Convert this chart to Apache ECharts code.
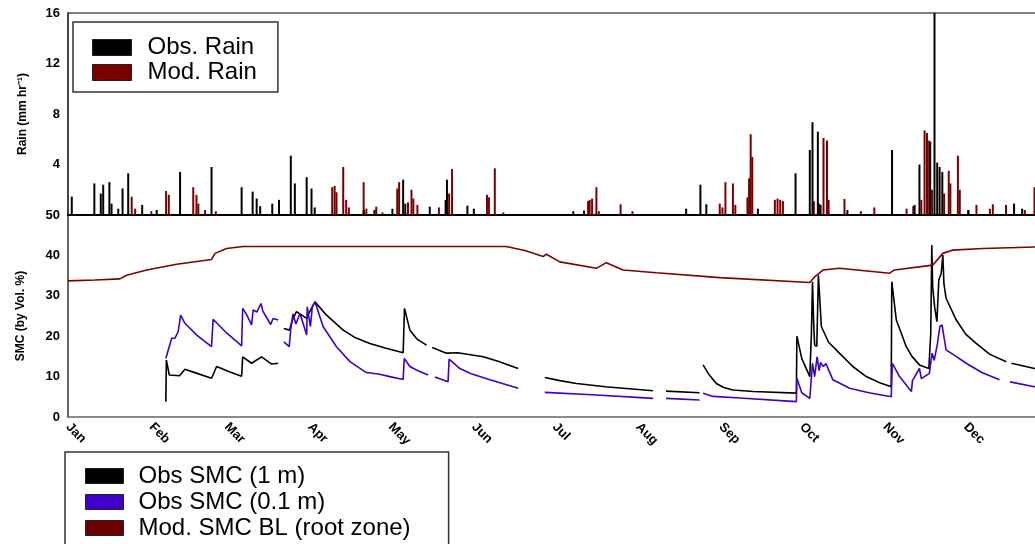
<!DOCTYPE html>
<html><head><meta charset="utf-8">
<script src="https://cdn.jsdelivr.net/npm/echarts@6/dist/echarts.min.js"></script>
<style>html,body{margin:0;padding:0;background:#fff}#c{width:1035px;height:544px}</style>
</head><body><div id="c"></div>
<script>
var monthNames = ['Jan','Feb','Mar','Apr','May','Jun','Jul','Aug','Sep','Oct','Nov','Dec'];
var monthStartDays = [0,31,59,90,120,151,181,212,243,273,304,334];
var rainTicks = [0,4,8,12,16];
var smcTicks = [0,10,20,30,40,50];

var obsRain = [[1.4,1.45],[9.8,2.5],[12.2,1.7],[13.1,2.4],[15.4,2.6],[16.2,0.9],[18.7,0.5],[20.3,2.1],[22.4,3.3],[27.6,0.8],[33,0.4],[41.7,3.4],[53.4,3.8],[64.6,2.2],[68.7,1.85],[70.2,1.3],[71.5,0.7],[76,0.9],[78.5,1.2],[82.9,4.7],[84.4,2.5],[88.8,3.0],[90.6,2.1],[91.8,0.6],[110,0.4],[114,0.4],[120.7,0.5],[124.7,2.8],[125.5,0.9],[134.6,0.66],[140.5,1.2],[141,2.8],[148.6,0.74],[151,0.5],[188,0.3],[192,0.35],[230,0.5],[235.3,2.4],[237.5,0.85],[256.7,0.5],[270.7,3.3],[276,5.15],[277,7.35],[279,6.6],[280,0.8],[290,0.4],[306.6,5.15],[315,0.8],[316.8,4.0],[320.8,5.8],[322.4,16],[323.4,4.15],[324.3,3.8],[325.3,3.4],[335,0.4],[352,0.9],[355,0.5],[363,0.85]];

var modRain = [[23.7,1.45],[25,0.5],[31,0.3],[36.5,1.9],[37.5,1.6],[46.6,2.2],[47.8,1.6],[48.5,0.9],[51,0.4],[55,0.3],[98.3,2.2],[99.2,2.3],[99.9,1.8],[102.4,3.8],[103.5,1.2],[104.5,0.6],[110,2.6],[111,0.5],[114.7,0.66],[117,0.2],[122.5,2.1],[123.2,2.6],[126.5,1.0],[127.8,2.0],[128.5,1.3],[130,0.8],[138,0.6],[141.8,1.7],[142.9,3.65],[155.9,1.6],[156.6,1.4],[158.8,3.7],[162,0.2],[193.5,1.1],[194.1,1.2],[195,1.3],[196.6,2.2],[197.5,0.3],[205.6,0.85],[210,0.3],[242.5,0.9],[243.5,0.6],[244.6,2.6],[247.4,2.5],[248.3,0.8],[252.8,1.4],[253.4,2.9],[254,6.4],[254.6,4.6],[263,1.2],[264,1.3],[265,1.2],[266,1.1],[277.5,1.1],[279.5,0.9],[281.1,6.1],[282.4,5.9],[283,1.2],[288.9,1.27],[295,0.3],[300,0.6],[312,0.5],[314.5,0.7],[317.5,1.2],[318.7,6.7],[319.6,6.5],[320.4,5.9],[321.5,2.0],[326,1.7],[327.7,3.5],[328.3,2.5],[331.1,4.7],[331.8,2.0],[335,0.4],[338,0.8],[343,0.5],[344.1,0.85],[349,0.8],[356,0.4],[359.6,2.2]];

var obsSmc1m = [[36.4,3.8],[36.6,14.1],[37.7,10.4],[41.5,10.2],[43.5,11.8],[48,10.8],[53.4,9.6],[55.3,12.5],[60,11.2],[64.6,10.1],[65,14.9],[68.3,13.3],[72,14.9],[75.8,13.1],[78.2,13.3],[79,null],[80.3,21.9],[82.4,21.5],[83.5,24],[85,26.1],[88.8,24.4],[89.5,25.5],[91.9,28.5],[96.2,25.2],[102.4,21.5],[107,19.6],[112.3,18.2],[118,17.1],[124.7,15.9],[125.2,26.9],[127.2,21.5],[130,19.2],[133.4,17.8],[134.5,null],[135.5,17.2],[140.8,15.8],[145,15.9],[154.5,14.9],[160,13.8],[167.5,12.0],[170,null],[177.4,9.8],[183,9.0],[189.2,8.3],[200,7.5],[217.7,6.5],[220,null],[222.5,6.4],[235,6.0],[235.6,null],[236.3,12.9],[238.5,10.5],[241.2,8.3],[244,7.3],[247.4,6.7],[255,6.3],[271,5.9],[271.2,20.0],[273,14.5],[276,10.0],[276.6,20.7],[277,33.5],[277.4,24],[277.8,17.8],[278.6,17.5],[279.2,35.1],[280.3,22.4],[283,18.5],[287,15.8],[292,12.5],[297,10.0],[302,8.5],[306.3,7.5],[306.5,33.5],[308.2,24.0],[311.9,17.4],[314,15],[316.8,12.9],[320.3,12.0],[321,20.7],[321.4,42.6],[321.7,32.3],[322.5,27],[323.3,23.6],[324,33.9],[324.9,35.6],[325.5,40.1],[325.9,33],[326.7,29.4],[330.5,24.0],[334,20.5],[337.9,18.2],[343,15.5],[349.1,13.7],[350,null],[351,13.3],[359.6,12.0],[365,11.6]];

var obsSmc01m = [[36.4,14.5],[37.3,16.6],[38.6,19.5],[39.8,19.5],[41,21.1],[41.9,25.2],[43.5,23.2],[48,20.2],[53.4,17.4],[54,24.2],[59,20.8],[64.6,17.6],[65,26.9],[66.5,25.3],[68.3,22.8],[68.9,26.5],[70.3,26],[71.8,28.1],[72.5,26.2],[75.4,22.9],[76.3,24.4],[78.2,24.0],[79,null],[80.3,18.6],[82.3,17.4],[82.9,21.9],[83.7,25.5],[84.8,23],[86.3,25.7],[88.8,20.3],[89,27.3],[90.2,22.4],[90.9,27.3],[91.9,28.5],[94.9,22.4],[99.9,17.4],[104.9,13.7],[111,11.0],[116,10.6],[119.7,10.0],[124.7,9.3],[125.1,14.5],[127.2,12.5],[130,11.5],[134,10.4],[135,null],[136.5,9.9],[141.4,8.7],[141.8,14.3],[145.8,12.0],[150,10.7],[157,9.2],[167.5,7.1],[170,null],[177.4,6.1],[195,5.5],[217.7,4.6],[220,null],[222.5,4.6],[235,4.2],[235.6,null],[236.3,5.9],[240,5.1],[250,4.7],[271,3.8],[271.2,9.6],[273,6],[276,4.6],[277,13.3],[277.8,10],[278.7,14.9],[279.5,11.5],[280,13.5],[281,12.5],[282,13.2],[284.6,9.2],[290.8,7.1],[298,6],[306.3,5.0],[306.7,13.3],[309.4,10],[313.8,6.3],[314.2,9],[316.8,12.0],[317.5,9.5],[320.5,10.8],[321.5,15.8],[322.3,14],[323.5,18.2],[324.4,22.4],[325.2,22.8],[326.7,16.6],[330,15.2],[334.2,13.3],[340,11.0],[346.6,9.2],[348,null],[350.5,8.7],[359.6,7.5],[365,7.2]];

var modSmc = [[0,33.7],[10,33.9],[19.3,34.2],[21.8,35.1],[29.3,36.4],[40.4,37.8],[53.4,39.0],[54.7,40.5],[59,41.7],[65.2,42.2],[163,42.2],[170,41.2],[176.8,39.7],[178,40.3],[183,38.4],[196.6,36.8],[200.3,38.2],[206.5,36.4],[218.9,35.7],[242.5,34.5],[276,33.3],[277.8,34.7],[281,36.4],[287,36.8],[305.7,35.6],[307.5,36.4],[321.8,37.6],[325.5,40.5],[329,41.3],[340.4,41.7],[365,42.2]];

var FONT = '"Liberation Sans", Arial, sans-serif';
var chart = echarts.init(document.getElementById('c'));
var axisLblStyle = {color:'#000', fontWeight:'bold', fontSize:13, fontFamily:FONT};
chart.setOption({
  animation:false,
  textStyle:{fontFamily:FONT},
  grid:[
    {left:68, width:981, top:13, height:202, show:true, borderColor:'#555', borderWidth:1.5, outerBoundsMode:'none', containLabel:false},
    {left:68, width:981, top:215, height:202, outerBoundsMode:'none', containLabel:false}
  ],
  xAxis:[
    {gridIndex:0, type:'value', min:0, max:365, splitLine:{show:false},
     axisLine:{lineStyle:{color:'#000', width:2}}, axisTick:{show:false}, axisLabel:{show:false}},
    {gridIndex:1, type:'value', min:0, max:365, splitLine:{show:false},
     axisLine:{lineStyle:{color:'#666', width:1.5}}, axisTick:{show:false},
     axisLabel:Object.assign({rotate:-45, margin:8, customValues:monthStartDays,
       formatter:function(v){var i=monthStartDays.indexOf(Math.round(v));return i>=0?monthNames[i]:'';}}, axisLblStyle)}
  ],
  yAxis:[
    {gridIndex:0, type:'value', min:rainTicks[0], max:rainTicks[rainTicks.length-1], interval:4,
     splitLine:{show:false}, axisTick:{show:false},
     axisLine:{show:true, lineStyle:{color:'#333', width:1.5}},
     axisLabel:Object.assign({showMinLabel:false, margin:8}, axisLblStyle),
     name:'Rain (mm hr\u207B\u00B9)', nameLocation:'middle', nameGap:39,
     nameTextStyle:{color:'#000', fontWeight:'bold', fontSize:12, fontFamily:FONT}},
    {gridIndex:1, type:'value', min:smcTicks[0], max:smcTicks[smcTicks.length-1], interval:10,
     splitLine:{show:false}, axisTick:{show:false},
     axisLine:{show:true, lineStyle:{color:'#333', width:1.5}},
     axisLabel:Object.assign({margin:8}, axisLblStyle),
     name:'SMC (by Vol. %)', nameLocation:'middle', nameGap:41,
     nameTextStyle:{color:'#000', fontWeight:'bold', fontSize:12, fontFamily:FONT}}
  ],
  legend:[
    {data:['Obs. Rain','Mod. Rain'], orient:'vertical', left:73, top:22, height:60,
     itemWidth:39, itemHeight:16, itemGap:0, icon:'rect',
     borderColor:'#333', borderWidth:1.5, padding:[13,21,7,19], backgroundColor:'#fff',
     textStyle:{fontSize:24, lineHeight:25, color:'#000', fontFamily:FONT, padding:[0,0,0,11]},
     itemStyle:{borderColor:'#222', borderWidth:1}},
    {data:['Obs SMC (1 m)','Obs SMC (0.1 m)','Mod. SMC BL (root zone)'], orient:'vertical', left:65, top:452, height:90,
     itemWidth:38, itemHeight:15, itemGap:0, icon:'rect',
     borderColor:'#333', borderWidth:1.5, padding:[11,38,30,20], backgroundColor:'#fff',
     textStyle:{fontSize:24, lineHeight:26, color:'#000', fontFamily:FONT, padding:[0,0,0,10]},
     itemStyle:{borderColor:'#222', borderWidth:1}}
  ],
  series:[
    {name:'Mod. Rain', type:'bar', xAxisIndex:0, yAxisIndex:0, data:modRain, barWidth:2, barGap:'-100%',
     itemStyle:{color:'#7a0000'}, z:2},
    {name:'Obs. Rain', type:'bar', xAxisIndex:0, yAxisIndex:0, data:obsRain, barWidth:2, barGap:'-100%',
     itemStyle:{color:'#000'}, z:3},
    {name:'Obs SMC (1 m)', type:'line', xAxisIndex:1, yAxisIndex:1, data:obsSmc1m, showSymbol:false,
     lineStyle:{color:'#000', width:1.6}, itemStyle:{color:'#000'}, connectNulls:false},
    {name:'Obs SMC (0.1 m)', type:'line', xAxisIndex:1, yAxisIndex:1, data:obsSmc01m, showSymbol:false,
     lineStyle:{color:'#3f00cc', width:1.6}, itemStyle:{color:'#3f00cc'}, connectNulls:false},
    {name:'Mod. SMC BL (root zone)', type:'line', xAxisIndex:1, yAxisIndex:1, data:modSmc, showSymbol:false,
     lineStyle:{color:'#800000', width:1.6}, itemStyle:{color:'#6b0000'}}
  ]
});
</script></body></html>
